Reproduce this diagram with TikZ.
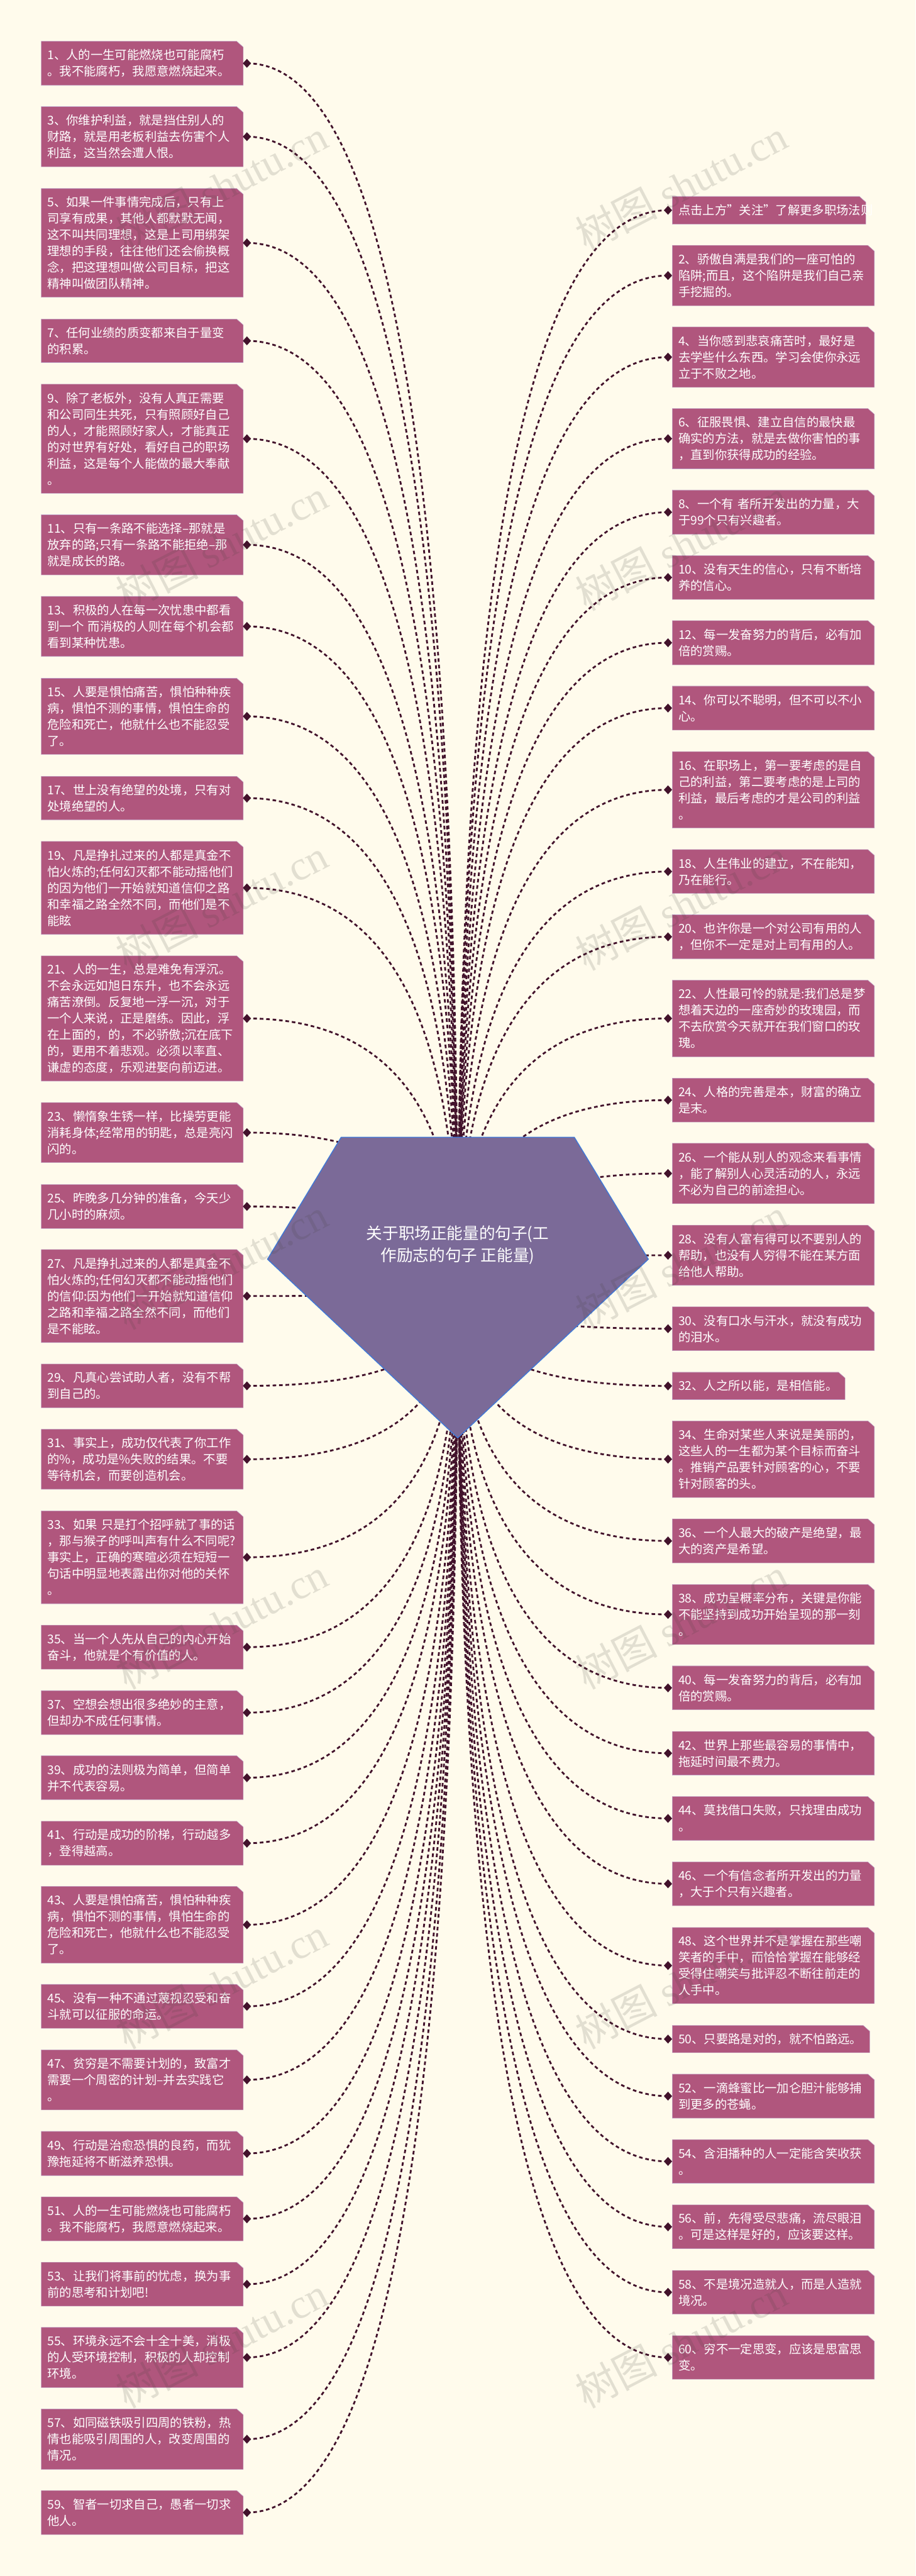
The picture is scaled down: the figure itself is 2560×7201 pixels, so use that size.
\documentclass[tikz,border=0pt]{standalone}
\usepackage{fontspec}
\setmainfont{Noto Sans CJK SC}
\newfontfamily\wmlatin{Liberation Serif}
\usetikzlibrary{calc,shapes.geometric}
\pgfdeclarelayer{pagelayer}
\pgfdeclarelayer{linklayer}
\pgfdeclarelayer{cardlayer}
\pgfsetlayers{pagelayer,linklayer,cardlayer,main}
\definecolor{pagebg}{HTML}{FFFBEC}
\definecolor{cardfill}{HTML}{B0567D}
\definecolor{cardedge}{HTML}{BFA0C8}
\definecolor{darkplum}{HTML}{42122B}
\definecolor{corefill}{HTML}{7B6A98}
\definecolor{coreedge}{HTML}{3F78D8}
\tikzset{
  cardtext/.style={inner sep=0pt,outer sep=0pt,text=white,align=left,
    font=\fontsize{34}{45.7}\selectfont},
  cardshape/.style={fill=cardfill,draw=cardedge,line width=1pt},
  tipmark/.style={diamond,aspect=0.92,fill=darkplum,draw=none,inner sep=0pt,
    minimum width=23pt,minimum height=25pt},
  conn/.style={draw=darkplum,line width=5pt,dash pattern=on 10pt off 8pt},
  coreshape/.style={fill=corefill,draw=coreedge,line width=2.5pt,line join=round},
  coretext/.style={inner sep=0pt,text=white,align=center,
    font=\fontsize{45}{61}\selectfont},
  wmark/.style={inner sep=0pt,rotate=27.4,text=black!85!yellow,text opacity=0.15,
    font=\fontsize{115}{115}\selectfont}
}
% name, left, right, top, bottom, text, diamond x
\newcommand{\qcard}[7]{%
  \pgfmathsetmacro{\qw}{#3-#2}%
  \pgfmathsetmacro{\qh}{#5-#4}%
  \pgfmathsetmacro{\qtw}{#3-#2-34}%
  \pgfmathsetmacro{\qcx}{(#2+#3)/2}%
  \pgfmathsetmacro{\qcy}{(#4+#5)/2}%
  \node[cardtext,text width=\qtw pt,minimum width=\qw pt,minimum height=\qh pt] (c#1) at (\qcx,\qcy) {#6};%
  \node[tipmark] (d#1) at (#7,\qcy) {};%
  \begin{pgfonlayer}{cardlayer}%
    \path[cardshape] (c#1.north west) -- ($(c#1.north east)+(-18,0)$) -- ($(c#1.north east)+(0,16)$) -- (c#1.south east) -- (c#1.south west) -- cycle;%
  \end{pgfonlayer}%
  \begin{pgfonlayer}{linklayer}%
    \draw[conn] (d#1.center) .. controls ($(d#1.center)!0.6667!(d#1.center -| core.center)$) and ($(core.center)!0.6667!(d#1.center -| core.center)$) .. (core.center);%
  \end{pgfonlayer}%
}
\newcommand{\lcard}[4]{\qcard{#1}{115.5}{680}{#2}{#3}{#4}{690.5}}
\newcommand{\rcard}[4]{\qcard{#1}{1880}{2445}{#2}{#3}{#4}{1868}}
\newcommand{\rcardw}[5]{\qcard{#1}{1880}{#5}{#2}{#3}{#4}{1868}}
\begin{document}
\begin{tikzpicture}[x=1pt,y=-1pt]
\useasboundingbox (0,0) rectangle (2560,7201);
\begin{pgfonlayer}{pagelayer}
  \fill[pagebg] (0,0) rectangle (2560,7201);
\end{pgfonlayer}
\node[inner sep=0pt,minimum width=1065pt,minimum height=840pt] (core) at (1280,3599) {};
\begin{pgfonlayer}{cardlayer}
  \path[coreshape] ($(core.center)+(-326,-420)$) -- ($(core.center)+(326,-420)$) -- ($(core.center)+(533,-79)$) -- ($(core.center)+(0,420.5)$) -- ($(core.center)+(-532,-79)$) -- cycle;
\end{pgfonlayer}
\node[coretext] (coretitle) at (1280,3481) {关于职场正能量的句子(工\\作励志的句子 正能量)};

\lcard{1}{115.5}{238.6}{1、人的一生可能燃烧也可能腐朽\\。我不能腐朽，我愿意燃烧起来。}
\lcard{3}{298}{466}{3、你维护利益，就是挡住别人的\\财路，就是用老板利益去伤害个人\\利益，这当然会遭人恨。}
\lcard{5}{527}{831}{5、如果一件事情完成后，只有上\\司享有成果，其他人都默默无闻，\\这不叫共同理想，这是上司用绑架\\理想的手段，往往他们还会偷换概\\念，把这理想叫做公司目标，把这\\精神叫做团队精神。}
\lcard{7}{892}{1013.5}{7、任何业绩的质变都来自于量变\\的积累。}
\lcard{9}{1074}{1379}{9、除了老板外，没有人真正需要\\和公司同生共死，只有照顾好自己\\的人，才能照顾好家人，才能真正\\的对世界有好处，看好自己的职场\\利益，这是每个人能做的最大奉献\\。}
\lcard{11}{1439}{1607}{11、只有一条路不能选择--那就是\\放弃的路;只有一条路不能拒绝--那\\就是成长的路。}
\lcard{13}{1667}{1835}{13、积极的人在每一次忧患中都看\\到一个 而消极的人则在每个机会都\\看到某种忧患。}
\lcard{15}{1896}{2109}{15、人要是惧怕痛苦，惧怕种种疾\\病，惧怕不测的事情，惧怕生命的\\危险和死亡，他就什么也不能忍受\\了。}
\lcard{17}{2170}{2292}{17、世上没有绝望的处境，只有对\\处境绝望的人。}
\lcard{19}{2352}{2612}{19、凡是挣扎过来的人都是真金不\\怕火炼的;任何幻灭都不能动摇他们\\的因为他们一开始就知道信仰之路\\和幸福之路全然不同，而他们是不\\能眩}
\lcard{21}{2672}{3022}{21、人的一生，总是难免有浮沉。\\不会永远如旭日东升，也不会永远\\痛苦潦倒。反复地一浮一沉，对于\\一个人来说，正是磨练。因此，浮\\在上面的，的，不必骄傲;沉在底下\\的，更用不着悲观。必须以率直、\\谦虚的态度，乐观进娶向前迈进。}
\lcard{23}{3082}{3250}{23、懒惰象生锈一样，比操劳更能\\消耗身体;经常用的钥匙，总是亮闪\\闪的。}
\lcard{25}{3311}{3434}{25、昨晚多几分钟的准备，今天少\\几小时的麻烦。}
\lcard{27}{3493}{3753}{27、凡是挣扎过来的人都是真金不\\怕火炼的;任何幻灭都不能动摇他们\\的信仰:因为他们一开始就知道信仰\\之路和幸福之路全然不同，而他们\\是不能眩。}
\lcard{29}{3813}{3935}{29、凡真心尝试助人者，没有不帮\\到自己的。}
\lcard{31}{3995.5}{4163}{31、事实上，成功仅代表了你工作\\的\%，成功是\%失败的结果。不要\\等待机会，而要创造机会。}
\lcard{33}{4223.6}{4483}{33、如果 只是打个招呼就了事的话\\，那与猴子的呼叫声有什么不同呢?\\事实上，正确的寒暄必须在短短一\\句话中明显地表露出你对他的关怀\\。}
\lcard{35}{4543}{4666}{35、当一个人先从自己的内心开始\\奋斗，他就是个有价值的人。}
\lcard{37}{4726}{4849}{37、空想会想出很多绝妙的主意，\\但却办不成任何事情。}
\lcard{39}{4908}{5031}{39、成功的法则极为简单，但简单\\并不代表容易。}
\lcard{41}{5091}{5214}{41、行动是成功的阶梯，行动越多\\，登得越高。}
\lcard{43}{5273}{5488}{43、人要是惧怕痛苦，惧怕种种疾\\病，惧怕不测的事情，惧怕生命的\\危险和死亡，他就什么也不能忍受\\了。}
\lcard{45}{5547}{5670}{45、没有一种不通过蔑视忍受和奋\\斗就可以征服的命运。}
\lcard{47}{5730}{5898}{47、贫穷是不需要计划的，致富才\\需要一个周密的计划--并去实践它\\。}
\lcard{49}{5958}{6081.5}{49、行动是治愈恐惧的良药，而犹\\豫拖延将不断滋养恐惧。}
\lcard{51}{6141}{6264}{51、人的一生可能燃烧也可能腐朽\\。我不能腐朽，我愿意燃烧起来。}
\lcard{53}{6324}{6446.6}{53、让我们将事前的忧虑，换为事\\前的思考和计划吧!}
\lcard{55}{6506}{6674}{55、环境永远不会十全十美，消极\\的人受环境控制，积极的人却控制\\环境。}
\lcard{57}{6734}{6903}{57、如同磁铁吸引四周的铁粉，热\\情也能吸引周围的人，改变周围的\\情况。}
\lcard{59}{6962}{7085}{59、智者一切求自己，愚者一切求\\他人。}

\rcardw{0}{549}{626.5}{点击上方"关注"了解更多职场法则}{2421}
\rcard{2}{686}{854.5}{2、骄傲自满是我们的一座可怕的\\陷阱;而且，这个陷阱是我们自己亲\\手挖掘的。}
\rcard{4}{914}{1082.6}{4、当你感到悲哀痛苦时，最好是\\去学些什么东西。学习会使你永远\\立于不败之地。}
\rcard{6}{1142}{1310.6}{6、征服畏惧、建立自信的最快最\\确实的方法，就是去做你害怕的事\\，直到你获得成功的经验。}
\rcard{8}{1370}{1493.6}{8、一个有 者所开发出的力量，大\\于99个只有兴趣者。}
\rcard{10}{1553}{1675.7}{10、没有天生的信心，只有不断培\\养的信心。}
\rcard{12}{1735}{1858.5}{12、每一发奋努力的背后，必有加\\倍的赏赐。}
\rcard{14}{1918}{2040.7}{14、你可以不聪明，但不可以不小\\心。}
\rcard{16}{2101}{2314.6}{16、在职场上，第一要考虑的是自\\己的利益，第二要考虑的是上司的\\利益，最后考虑的才是公司的利益\\。}
\rcard{18}{2375}{2497.5}{18、人生伟业的建立，不在能知，\\乃在能行。}
\rcard{20}{2557}{2680.5}{20、也许你是一个对公司有用的人\\，但你不一定是对上司有用的人。}
\rcard{22}{2740}{2954}{22、人性最可怜的就是:我们总是梦\\想着天边的一座奇妙的玫瑰园，而\\不去欣赏今天就开在我们窗口的玫\\瑰。}
\rcard{24}{3014}{3136.5}{24、人格的完善是本，财富的确立\\是末。}
\rcard{26}{3196}{3364.5}{26、一个能从别人的观念来看事情\\，能了解别人心灵活动的人，永远\\不必为自己的前途担心。}
\rcard{28}{3425}{3593}{28、没有人富有得可以不要别人的\\帮助，也没有人穷得不能在某方面\\给他人帮助。}
\rcard{30}{3653}{3775.5}{30、没有口水与汗水，就没有成功\\的泪水。}
\rcardw{32}{3836}{3912.5}{32、人之所以能，是相信能。}{2363}
\rcard{34}{3972}{4186}{34、生命对某些人来说是美丽的，\\这些人的一生都为某个目标而奋斗\\。推销产品要针对顾客的心，不要\\针对顾客的头。}
\rcard{36}{4246}{4369}{36、一个人最大的破产是绝望，最\\大的资产是希望。}
\rcard{38}{4429}{4597}{38、成功呈概率分布，关键是你能\\不能坚持到成功开始呈现的那一刻\\。}
\rcard{40}{4657}{4779.5}{40、每一发奋努力的背后，必有加\\倍的赏赐。}
\rcard{42}{4840}{4962}{42、世界上那些最容易的事情中，\\拖延时间最不费力。}
\rcard{44}{5022}{5144.5}{44、莫找借口失败，只找理由成功\\。}
\rcard{46}{5205}{5327}{46、一个有信念者所开发出的力量\\，大于个只有兴趣者。}
\rcard{48}{5388}{5601}{48、这个世界并不是掌握在那些嘲\\笑者的手中，而恰恰掌握在能够经\\受得住嘲笑与批评忍不断往前走的\\人手中。}
\rcardw{50}{5662}{5738}{50、只要路是对的，就不怕路远。}{2432}
\rcard{52}{5798}{5921}{52、一滴蜂蜜比一加仑胆汁能够捕\\到更多的苍蝇。}
\rcard{54}{5981}{6103}{54、含泪播种的人一定能含笑收获\\。}
\rcard{56}{6163.6}{6286}{56、前，先得受尽悲痛，流尽眼泪\\。可是这样是好的，应该要这样。}
\rcard{58}{6346.6}{6469}{58、不是境况造就人，而是人造就\\境况。}
\rcard{60}{6529}{6651}{60、穷不一定思变，应该是思富思\\变。}

\foreach \k in {0,...,6}{
  \node[wmark] (wl\k) at (620,518+1005*\k) {树图 {\wmlatin shutu.cn}};
  \node[wmark] (wr\k) at (1905,518+1005*\k) {树图 {\wmlatin shutu.cn}};
}
\end{tikzpicture}
\end{document}
